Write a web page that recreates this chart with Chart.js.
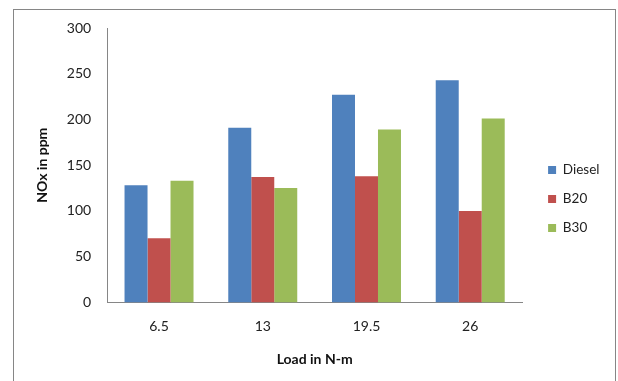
<!DOCTYPE html>
<html>
<head>
<meta charset="utf-8">
<script src="https://cdn.jsdelivr.net/npm/chart.js@4/dist/chart.umd.min.js"></script>
<style>
  html, body { margin: 0; padding: 0; background: #fff; }
  #wrap { position: relative; width: 618px; height: 381px; }
</style>
</head>
<body>
<div id="wrap"><canvas id="c" width="618" height="381"></canvas></div>
<script>
// Engine load (N-m) and NOx emissions (ppm) per fuel blend
const loads = ['6.5', '13', '19.5', '26'];
const diesel = [128, 191, 227, 243];
const b20 = [70, 137, 138, 100];
const b30 = [133, 125, 189, 201];

const FONT = 'Lato, "Liberation Sans", sans-serif';
const AXIS_GREY = '#868686';

// Frame around the whole chart, open at the bottom edge of the canvas
const framePlugin = {
  id: 'frame',
  beforeDraw(chart) {
    const ctx = chart.ctx;
    ctx.save();
    ctx.fillStyle = '#fff';
    ctx.fillRect(0, 0, chart.width, chart.height);
    ctx.strokeStyle = AXIS_GREY;
    ctx.lineWidth = 1;
    ctx.strokeRect(13.5, 9.5, 602, 400);
    ctx.restore();
  }
};

// Nudge the legend block a little to the right of the plot
const legendShift = {
  id: 'legendShift',
  afterLayout(chart) {
    const lg = chart.legend;
    const dx = 10.5, dy = 1;
    lg.left += dx; lg.right += dx;
    lg.top += dy; lg.bottom += dy;
  }
};

new Chart(document.getElementById('c'), {
  type: 'bar',
  data: {
    labels: loads,
    datasets: [
      { label: 'Diesel', data: diesel, backgroundColor: '#4F81BD' },
      { label: 'B20', data: b20, backgroundColor: '#C0504D' },
      { label: 'B30', data: b30, backgroundColor: '#9BBB59' }
    ]
  },
  options: {
    responsive: false,
    animation: false,
    devicePixelRatio: 1,
    categoryPercentage: 0.665,
    barPercentage: 1,
    layout: { padding: { left: 34, top: 28, right: 19, bottom: 13 } },
    plugins: {
      legend: {
        position: 'right',
        align: 'center',
        labels: {
          boxWidth: 8,
          boxHeight: 8,
          padding: 15.5,
          color: '#222',
          font: { family: FONT, size: 13.5 }
        }
      },
      tooltip: { enabled: false }
    },
    scales: {
      x: {
        grid: { display: false, drawTicks: false },
        border: { display: true, color: AXIS_GREY, width: 1 },
        ticks: { color: '#222', padding: 16, font: { family: FONT, size: 14 } },
        title: {
          display: true,
          text: 'Load in N-m',
          color: '#111',
          padding: 0,
          font: { family: FONT, size: 14, weight: 'bold' }
        }
      },
      y: {
        min: 0,
        max: 300,
        grid: { display: false, drawTicks: false },
        border: { display: true, color: AXIS_GREY, width: 1 },
        ticks: { stepSize: 50, color: '#222', padding: 16, font: { family: FONT, size: 14 } },
        title: {
          display: true,
          text: 'NOx in ppm',
          color: '#111',
          padding: 0,
          font: { family: FONT, size: 14, weight: 'bold' }
        }
      }
    }
  },
  plugins: [framePlugin, legendShift]
});
</script>
</body>
</html>
